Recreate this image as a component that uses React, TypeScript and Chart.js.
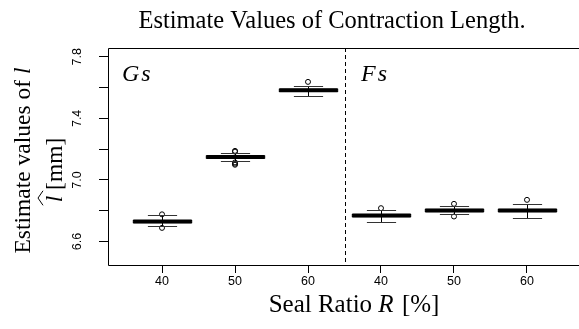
import React, { useEffect, useRef } from "react";
import { Chart, registerables } from "chart.js";

Chart.register(...registerables);

// ---- data ----
const groupNames = ["Gs", "Fs"];
const ratioLabels = ["40", "50", "60", "40", "50", "60"];
const medians = [6.73, 7.149, 7.582, 6.769, 6.802, 6.802];
const q1s = [6.723, 7.142, 7.575, 6.762, 6.795, 6.795];
const q3s = [6.737, 7.156, 7.589, 6.776, 6.809, 6.809];
const whiskerLow = [6.7, 7.123, 7.548, 6.73, 6.778, 6.756];
const whiskerHigh = [6.772, 7.173, 7.608, 6.802, 6.832, 6.843];
const outliers = [
  [6.777, 6.689],
  [7.184, 7.189, 7.114, 7.106, 7.099],
  [7.637],
  [6.817],
  [6.845, 6.763],
  [6.871],
];
const yTickValues = [6.6, 6.8, 7.0, 7.2, 7.4, 7.6, 7.8];
const yTickLabels = ["6.6", "", "7.0", "", "7.4", "", "7.8"];
const titleText = "Estimate Values of Contraction Length.";

const SERIF = '"Liberation Serif", "Times New Roman", serif';
const SANS = '"Liberation Sans", Arial, sans-serif';
const TICK_FONT = 12.5;

const boxPlugin = {
  id: "boxPlugin",
  afterDatasetsDraw(chart: any) {
    const ctx = chart.ctx;
    const xs = chart.scales.x;
    const ys = chart.scales.y;
    const ca = chart.chartArea;
    ctx.save();
    ctx.strokeStyle = "#000";
    ctx.lineWidth = 1;
    const L = Math.round(ca.left) + 0.5;
    const T = Math.round(ca.top) + 0.5;
    const B = Math.round(ca.bottom) + 0.5;
    const R = ca.right + 20;
    ctx.beginPath();
    ctx.moveTo(R, T);
    ctx.lineTo(L, T);
    ctx.lineTo(L, B);
    ctx.lineTo(R, B);
    ctx.stroke();
    const sx = Math.round(xs.getPixelForValue(3.5)) + 0.5;
    ctx.setLineDash([4, 3]);
    ctx.beginPath();
    ctx.moveTo(sx, ca.top);
    ctx.lineTo(sx, ca.bottom);
    ctx.stroke();
    ctx.setLineDash([]);

    const unit = xs.getPixelForValue(2) - xs.getPixelForValue(1);
    const halfBox = 0.4 * unit;
    const halfCap = 0.2 * unit;
    for (let i = 0; i < medians.length; i++) {
      const cx = Math.round(xs.getPixelForValue(i + 1)) + 0.5;
      const yMed = ys.getPixelForValue(medians[i]);
      const yQ1 = ys.getPixelForValue(q1s[i]);
      const yQ3 = ys.getPixelForValue(q3s[i]);
      const yLo = Math.round(ys.getPixelForValue(whiskerLow[i])) + 0.5;
      const yHi = Math.round(ys.getPixelForValue(whiskerHigh[i])) + 0.5;
      ctx.strokeStyle = "#000";
      ctx.lineWidth = 1;
      ctx.beginPath();
      ctx.moveTo(cx, yQ3);
      ctx.lineTo(cx, yHi);
      ctx.moveTo(cx, yQ1);
      ctx.lineTo(cx, yLo);
      ctx.stroke();
      ctx.strokeStyle = "#333";
      ctx.beginPath();
      ctx.moveTo(cx - halfCap, yHi);
      ctx.lineTo(cx + halfCap, yHi);
      ctx.moveTo(cx - halfCap, yLo);
      ctx.lineTo(cx + halfCap, yLo);
      ctx.stroke();
      ctx.strokeStyle = "#000";
      ctx.strokeRect(cx - halfBox, yQ3, 2 * halfBox, yQ1 - yQ3);
      ctx.lineWidth = 4;
      ctx.beginPath();
      ctx.moveTo(cx - halfBox, yMed);
      ctx.lineTo(cx + halfBox, yMed);
      ctx.stroke();
    }
    ctx.restore();
  },
  afterDraw(chart: any) {
    const ctx = chart.ctx;
    const ys = chart.scales.y;
    const ca = chart.chartArea;
    ctx.save();
    ctx.fillStyle = "#000";
    // title
    ctx.font = `24.5px ${SERIF}`;
    ctx.textAlign = "center";
    ctx.textBaseline = "alphabetic";
    ctx.fillText(titleText, 332, 27.5);

    // group labels
    ctx.font = `italic 24px ${SERIF}`;
    ctx.textAlign = "left";
    const drawMath = (s: string, x: number, y: number) => {
      ctx.fillText(s[0], x, y);
      const w = ctx.measureText(s[0]).width;
      ctx.fillText(s.slice(1), x + w + 2, y);
    };
    drawMath(groupNames[0], ca.left + 14, 81);
    drawMath(groupNames[1], ca.left + 253, 81);

    // y tick labels rotated
    ctx.font = `${TICK_FONT}px ${SANS}`;
    ctx.textAlign = "center";
    ctx.textBaseline = "middle";
    yTickValues.forEach((v, i) => {
      const lab = yTickLabels[i];
      if (!lab) return;
      const py = ys.getPixelForValue(v);
      ctx.save();
      ctx.translate(77.5, py);
      ctx.rotate(-Math.PI / 2);
      ctx.fillText(lab, 0, 0);
      ctx.restore();
    });

    // y axis title (two lines)
    const YF = 23.5;
    ctx.save();
    ctx.translate(30, 160.5);
    ctx.rotate(-Math.PI / 2);
    ctx.textBaseline = "alphabetic";
    ctx.textAlign = "left";
    const p1 = "Estimate values of ";
    ctx.font = `${YF}px ${SERIF}`;
    const w1 = ctx.measureText(p1).width;
    ctx.font = `italic ${YF}px ${SERIF}`;
    const w2 = ctx.measureText("l").width;
    const s1 = -(w1 + w2) / 2;
    ctx.font = `${YF}px ${SERIF}`;
    ctx.fillText(p1, s1, 0);
    ctx.font = `italic ${YF}px ${SERIF}`;
    ctx.fillText("l", s1 + w1, 0);
    ctx.restore();

    ctx.save();
    ctx.translate(62, 170);
    ctx.rotate(-Math.PI / 2);
    ctx.textBaseline = "alphabetic";
    ctx.textAlign = "left";
    ctx.font = `italic ${YF}px ${SERIF}`;
    const wl = ctx.measureText("l").width;
    ctx.font = `${YF}px ${SERIF}`;
    const wr = ctx.measureText(" [mm]").width;
    const s2 = -(wl + wr) / 2;
    ctx.font = `italic ${YF}px ${SERIF}`;
    ctx.fillText("l", s2, 0);
    ctx.font = `${YF}px ${SERIF}`;
    ctx.fillText(" [mm]", s2 + wl, 0);
    ctx.strokeStyle = "#000";
    ctx.lineWidth = 1;
    ctx.beginPath();
    ctx.moveTo(s2 - 3, -19);
    ctx.lineTo(s2 + wl / 2 + 1, -24);
    ctx.lineTo(s2 + wl + 5, -19);
    ctx.stroke();
    ctx.restore();

    // x axis title
    const XF = 25;
    ctx.textBaseline = "alphabetic";
    ctx.textAlign = "left";
    ctx.font = `${XF}px ${SERIF}`;
    const a = "Seal Ratio ";
    const c = " [%]";
    const wa = ctx.measureText(a).width;
    const wc = ctx.measureText(c).width;
    ctx.font = `italic ${XF}px ${SERIF}`;
    const wb = ctx.measureText("R").width;
    const total = wa + wb + wc;
    const xx = 353 - total / 2;
    const by = 312;
    ctx.font = `${XF}px ${SERIF}`;
    ctx.fillText(a, xx, by);
    ctx.font = `italic ${XF}px ${SERIF}`;
    ctx.fillText("R", xx + wa, by);
    ctx.font = `${XF}px ${SERIF}`;
    ctx.fillText(c, xx + wa + wb + 2, by);
    ctx.restore();
  },
};

export default function App() {
  const ref = useRef<HTMLCanvasElement | null>(null);
  useEffect(() => {
    if (!ref.current) return;
    const scatterData: { x: number; y: number }[] = [];
    outliers.forEach((arr, i) => arr.forEach((v) => scatterData.push({ x: i + 1, y: v })));
    const chart = new Chart(ref.current, {
      type: "scatter",
      data: {
        datasets: [
          {
            data: scatterData,
            pointStyle: "circle",
            pointRadius: 2.5,
            pointBorderWidth: 1,
            borderColor: "#000",
            backgroundColor: "rgba(0,0,0,0)",
          } as any,
        ],
      },
      options: {
        animation: false,
        responsive: false,
        devicePixelRatio: 1,
        layout: { padding: { left: 0, top: 48, right: 59, bottom: 0 } },
        plugins: { legend: { display: false }, title: { display: false }, tooltip: { enabled: false } },
        scales: {
          x: {
            type: "linear",
            min: 0.26,
            max: 6.74,
            afterBuildTicks: (s: any) => {
              s.ticks = ratioLabels.map((_, i) => ({ value: i + 1 }));
            },
            afterFit: (s: any) => {
              s.height = 64;
            },
            ticks: {
              callback: (v: any) => ratioLabels[Math.round(Number(v)) - 1] ?? "",
              color: "#000",
              font: { family: SANS, size: TICK_FONT },
              padding: 1,
              maxRotation: 0,
              minRotation: 0,
              autoSkip: false,
            },
            grid: { drawOnChartArea: false, drawTicks: true, tickLength: 8, color: "#000" },
            border: { display: false },
          },
          y: {
            type: "linear",
            min: 6.448,
            max: 7.857,
            afterBuildTicks: (s: any) => {
              s.ticks = yTickValues.map((v) => ({ value: v }));
            },
            afterFit: (s: any) => {
              s.width = 108;
            },
            ticks: { display: false },
            grid: { drawOnChartArea: false, drawTicks: true, tickLength: 9, color: "#000" },
            border: { display: false },
          },
        },
      },
      plugins: [boxPlugin],
    });
    return () => chart.destroy();
  }, []);
  return (
    <div style={{ position: "fixed", left: 0, top: 0, width: 579, height: 329, overflow: "hidden", background: "#fff" }}>
      <canvas ref={ref} width={640} height={329} style={{ width: 640, height: 329, display: "block" }} />
    </div>
  );
}
